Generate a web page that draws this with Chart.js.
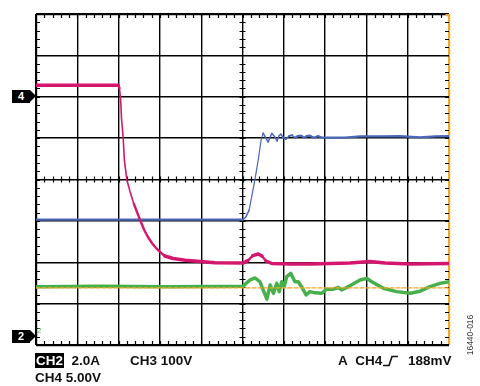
<!DOCTYPE html>
<html>
<head>
<meta charset="utf-8">
<script src="https://cdn.jsdelivr.net/npm/chart.js@4.4.1/dist/chart.umd.min.js"></script>
<style>
  html, body { margin: 0; padding: 0; background: #fff; }
  #wrap { position: relative; width: 480px; height: 386px; overflow: hidden;
          font-family: "Liberation Sans", Arial, sans-serif; font-weight: bold; color: #111; }
  canvas { position: absolute; left: 0; top: 0; }
  .lbl { position: absolute; font-size: 13.5px; line-height: 13px; white-space: nowrap; }
  .inv { background: #000; color: #fff; padding: 0 1px; }
  .mark { position: absolute; width: 18px; height: 13px; background: #000; color: #fff;
          font-size: 11px; line-height: 13px; text-align: center; }
  .mark:after { content: ""; position: absolute; left: 18px; top: 0;
          border-top: 6.5px solid transparent; border-bottom: 6.5px solid transparent; border-left: 6px solid #000; }
  .gnd { position: absolute; left: 37px; top: 326px; font-size: 8px; color: #5cb85c; font-weight: normal; }
  .fig { position: absolute; left: 440px; top: 330px; width: 60px; height: 10px; line-height: 10px;
         font-size: 8.5px; font-weight: normal; color: #333; white-space: nowrap; text-align: center;
         transform: rotate(-90deg); transform-origin: center; }
</style>
</head>
<body>
<div id="wrap">
  <canvas id="scope" width="480" height="386"></canvas>
  <div class="mark" style="left:12px;top:90px;">4</div>
  <div class="mark" style="left:12px;top:330px;">2</div>
  <div class="gnd">2</div>
  <div class="lbl" style="left:35px;top:354px;"><span class="inv">CH2</span>&nbsp; 2.0A</div>
  <div class="lbl" style="left:130px;top:354px;">CH3 100V</div>
  <div class="lbl" style="left:338px;top:354px;">A&nbsp; CH4</div>
  <svg style="position:absolute;left:383px;top:355px;" width="16" height="12">
    <polyline points="0,10.5 6,10.5 9,1.5 15,1.5" fill="none" stroke="#111" stroke-width="1.6"/>
  </svg>
  <div class="lbl" style="left:408px;top:354px;">188mV</div>
  <div class="lbl" style="left:35px;top:371px;">CH4 5.00V</div>
  <div class="fig">16440-016</div>
</div>
<script>
// time axis in divisions (0..10), amplitude in divisions (0..8, bottom = 0)
const pinkX = [0, 1.99, 2.02, 2.05, 2.07, 2.11, 2.14, 2.20, 2.28, 2.37, 2.52, 2.62, 2.71, 2.81, 2.91, 3.00, 3.12, 3.32, 3.61, 3.97, 4.33, 5.01, 5.13, 5.25, 5.38, 5.47, 5.57, 5.71, 6.15, 6.63, 7.12, 7.60, 8.09, 8.45, 9.06, 10];
const pinkY = [6.28, 6.28, 6.21, 5.92, 5.48, 5.02, 4.47, 3.99, 3.70, 3.41, 3.02, 2.78, 2.61, 2.46, 2.34, 2.25, 2.15, 2.09, 2.05, 2.02, 1.99, 1.98, 2.04, 2.16, 2.20, 2.15, 2.03, 1.97, 1.96, 1.96, 1.97, 1.98, 2.02, 1.98, 1.96, 1.97];

const blueX = [0, 5.01, 5.08, 5.16, 5.23, 5.30, 5.38, 5.45, 5.50, 5.54, 5.62, 5.67, 5.71, 5.79, 5.84, 5.88, 5.93, 5.98, 6.05, 6.13, 6.20, 6.27, 6.34, 6.42, 6.49, 6.56, 6.63, 6.73, 6.83, 6.92, 7.12, 7.48, 7.85, 8.33, 8.81, 9.30, 9.66, 10];
const blueY = [3.03, 3.03, 3.09, 3.26, 3.62, 3.99, 4.47, 4.95, 5.12, 5.05, 4.90, 5.02, 5.12, 5.02, 4.93, 5.05, 5.10, 5.02, 4.98, 5.05, 5.07, 5.01, 5.05, 5.06, 5.01, 5.05, 5.06, 5.01, 5.05, 5.01, 5.01, 5.01, 5.04, 5.04, 5.05, 5.02, 5.04, 5.05];

const greenX = [0, 1.55, 3.20, 5.01, 5.18, 5.30, 5.42, 5.50, 5.59, 5.67, 5.75, 5.83, 5.89, 5.95, 6.01, 6.07, 6.17, 6.27, 6.35, 6.43, 6.54, 6.63, 6.76, 6.92, 7.04, 7.20, 7.32, 7.40, 7.60, 7.85, 8.01, 8.13, 8.41, 8.73, 9.06, 9.30, 9.54, 9.78, 10];
const greenY = [1.41, 1.42, 1.41, 1.42, 1.57, 1.62, 1.53, 1.33, 1.11, 1.45, 1.25, 1.49, 1.29, 1.53, 1.41, 1.65, 1.73, 1.53, 1.53, 1.41, 1.21, 1.29, 1.26, 1.25, 1.35, 1.35, 1.39, 1.33, 1.43, 1.57, 1.61, 1.53, 1.37, 1.29, 1.25, 1.30, 1.41, 1.49, 1.53];

const triggerX = [0, 10];
const triggerY = [1.38, 1.38];

const toPoints = (xs, ys) => xs.map((x, i) => ({ x: x, y: ys[i] }));

// fast edges are drawn thin on the scope, slow parts keep the wide noisy band
const slopeWidth = (wide, mid, thin) => c => {
  const dx = Math.abs(c.p1.x - c.p0.x), dy = Math.abs(c.p1.y - c.p0.y);
  if (dy > dx * 3) return thin;
  if (dy > dx * 0.8) return mid;
  return wide;
};

// minor ticks on the border and on the centre cross, like the scope graticule
const graticule = {
  id: 'graticule',
  beforeDatasetsDraw(chart) {
    const { ctx, chartArea: a, scales: { x, y } } = chart;
    ctx.save();
    ctx.strokeStyle = '#000';
    ctx.lineWidth = 1.2;
    ctx.beginPath();
    for (let i = 1; i < 50; i++) {
      const px = Math.round(x.getPixelForValue(i * 0.2)) + 0.5;
      ctx.moveTo(px, a.top); ctx.lineTo(px, a.top + 4);
      ctx.moveTo(px, a.bottom); ctx.lineTo(px, a.bottom - 4);
      const cy = y.getPixelForValue(4);
      ctx.moveTo(px, cy - 3); ctx.lineTo(px, cy + 3);
    }
    for (let i = 1; i < 40; i++) {
      const py = Math.round(y.getPixelForValue(i * 0.2)) + 0.5;
      ctx.moveTo(a.left, py); ctx.lineTo(a.left + 4, py);
      ctx.moveTo(a.right, py); ctx.lineTo(a.right - 4, py);
      const cx = x.getPixelForValue(5);
      ctx.moveTo(cx - 3, py); ctx.lineTo(cx + 3, py);
    }
    ctx.stroke();
    // trigger position marker top right
    ctx.fillStyle = '#f5a623';
    ctx.beginPath();
    ctx.moveTo(a.right - 4, a.top);
    ctx.lineTo(a.right + 1, a.top);
    ctx.lineTo(a.right + 1, a.top + 5);
    ctx.closePath();
    ctx.fill();
    ctx.restore();
  }
};

const edge = (c, max) => (c.tick && (c.tick.value === 0 || c.tick.value === max)) ? 2.2 : 1.4;

const ctx = document.getElementById('scope').getContext('2d');
new Chart(ctx, {
  type: 'line',
  data: {
    datasets: [
      { data: toPoints(triggerX, triggerY), borderColor: '#f5a623', borderWidth: 1.2, borderDash: [4, 2], order: 0 },
      { data: toPoints(pinkX, pinkY), borderColor: '#d4176d', borderWidth: 3.5, order: 1,
        segment: { borderWidth: slopeWidth(3.5, 2.4, 1.6) } },
      { data: toPoints(blueX, blueY), borderColor: '#4a68b6', borderWidth: 2, order: 2,
        segment: { borderWidth: slopeWidth(2.2, 1.5, 1.2) } },
      { data: toPoints(greenX, greenY), borderColor: '#46b04c', borderWidth: 3.5, order: 3 }
    ]
  },
  options: {
    responsive: false,
    animation: false,
    parsing: false,
    elements: { point: { radius: 0 }, line: { tension: 0, borderJoinStyle: 'round', borderCapStyle: 'round' } },
    layout: { padding: { left: 36, top: 14, right: 31, bottom: 41 } },
    plugins: { legend: { display: false }, tooltip: { enabled: false } },
    scales: {
      x: {
        type: 'linear', min: 0, max: 10,
        ticks: { display: false, stepSize: 1 },
        border: { display: false },
        grid: {
          drawTicks: false,
          color: c => (c.tick && c.tick.value === 10) ? '#f5a623' : '#000',
          lineWidth: c => edge(c, 10)
        }
      },
      y: {
        type: 'linear', min: 0, max: 8,
        ticks: { display: false, stepSize: 1 },
        border: { display: false },
        grid: { drawTicks: false, color: '#000', lineWidth: c => edge(c, 8) }
      }
    }
  },
  plugins: [graticule]
});
</script>
</body>
</html>
